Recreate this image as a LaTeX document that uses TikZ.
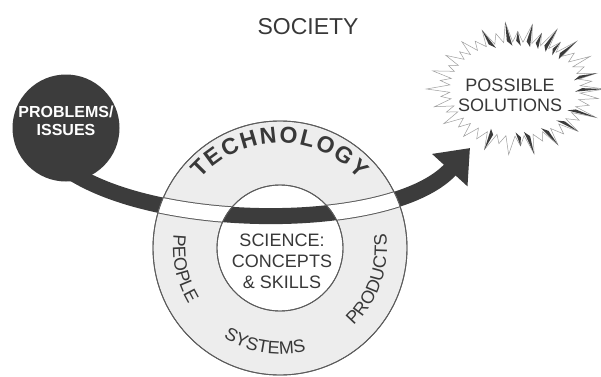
\documentclass[tikz,border=0pt]{standalone}
\usepackage{fontspec}
\setmainfont{Liberation Sans}
\usepackage{xcolor}
\usepackage{tikz}
\usetikzlibrary{arrows.meta,decorations.text}
\definecolor{StsDark}{HTML}{3C3C3C}
\definecolor{StsRing}{HTML}{EDEDED}
\definecolor{StsLine}{HTML}{5C5C5C}
\definecolor{StsText}{HTML}{383838}
\newcommand{\stsarc}{(prob.-72) .. controls (170,144) and (395,146) .. (tip)}
\newcommand{\burstlist}{0/1.04/1,8/0.9/0,15/0.98/1,24/0.88/0,31/1.02/0,40/0.9/0,47/1.05/1,55/0.92/1,63/1.08/1,71/0.95/1,79/1.06/1,88/0.93/1,96/1.08/1,104/0.92/0,112/1.02/1,121/0.9/0,129/0.98/0,137/0.88/0,146/0.97/0,154/0.86/0,163/1.0/0,171/0.88/0,180/1.03/0,188/0.87/0,197/0.98/0,205/0.88/0,214/1.0/0,223/0.9/0,232/0.97/0,241/0.92/0,250/1.04/1,258/0.9/0,266/1.06/0,274/0.92/1,282/1.07/1,291/0.9/0,299/1.03/1,308/0.92/0,317/1.0/1,326/0.9/0,334/1.05/1,343/0.9/0,351/0.98/0}
\tikzset{
  ringline/.style={draw=StsLine,line width=0.9pt},
  ringdisc/.style={circle,ringline,inner sep=0pt},
  issuedisc/.style={circle,fill=StsDark,inner sep=0pt},
  bigarrow/.style={-{Triangle[length=30pt,width=46pt]},line width=16pt,draw=StsDark,shorten <=-10pt},
  ringlabel/.style={decorate,decoration={text along path,text align=center,text color=StsText}},
  burstline/.style={draw=StsLine!60,line width=0.5pt,fill=white}
}

\begin{document}
\begin{tikzpicture}[x=1pt,y=1pt]
\useasboundingbox (0,0) rectangle (601,376);
\node[font=\fontsize{23}{23}\selectfont,text=StsText] (soc) at (308,349) {SOCIETY};
% problems disc and the arrow out of it
\node[issuedisc,minimum size=107pt] (prob) at (66,248) {};
\node[align=center,text=white,font=\fontsize{16}{18}\selectfont\bfseries] (probtxt) at (66,255) {PROBLEMS/\\ISSUES};
\coordinate (tip) at (470,228);
\draw[bigarrow] \stsarc;
% starburst
\begin{scope}[shift={(515,287)},x=86pt,y=62pt]
  \draw[burstline] (-5:0.76) \foreach \a/\f/\d in \burstlist {
    -- (\a:\f) -- ({\a+4}:0.76)} -- cycle;
  \foreach \a/\f/\d in \burstlist {
    \ifnum\d=1
      \fill[StsDark] ({\a-3.5}:0.7) -- (\a:\f) -- ({\a+1}:0.78) -- cycle;
    \fi}
\end{scope}
\node[align=center,text=StsText,font=\fontsize{18}{20}\selectfont] (sol) at (510,281) {POSSIBLE\\SOLUTIONS};
% technology ring, band hidden under it
\node[ringdisc,fill=StsRing,minimum size=254pt] (tech) at (280,128) {};
\begin{scope}
  \clip (tech.center) circle[radius=127];
  \draw[bigarrow,draw=StsLine,line width=17pt] \stsarc;
  \draw[bigarrow,draw=white,line width=15pt] \stsarc;
\end{scope}
\draw[ringline] (tech.center) circle[radius=127];
% science core
\node[ringdisc,fill=white,minimum size=126pt] (sci) at (tech.center) {};
\begin{scope}
  \clip (sci.center) circle[radius=63];
  \draw[bigarrow] \stsarc;
\end{scope}
\draw[ringline] (sci.center) circle[radius=63];
\node[align=center,text=StsText,font=\fontsize{18}{21}\selectfont] (scitxt) at (282,115) {SCIENCE:\\CONCEPTS\\\& SKILLS};
% ring words
\path[ringlabel,decoration={text align={fit to path},text={|\fontsize{23}{23}\selectfont\bfseries|TECHNOLOGY}}]
  (tech.center) ++(139:105) arc[start angle=139,end angle=41,radius=105];
\path[ringlabel,decoration={text={|\fontsize{18}{18}\selectfont|PEOPLE}}]
  (tech.center) ++(165:107) arc[start angle=165,end angle=219,radius=107];
\path[ringlabel,decoration={text={|\fontsize{18}{18}\selectfont|SYSTEMS}}]
  (tech.center) ++(230:106) arc[start angle=230,end angle=292,radius=106];
\path[ringlabel,decoration={text={|\fontsize{18}{18}\selectfont|PRODUCTS}}]
  (tech.center) ++(-53:107) arc[start angle=-53,end angle=14,radius=107];
\end{tikzpicture}
\end{document}
